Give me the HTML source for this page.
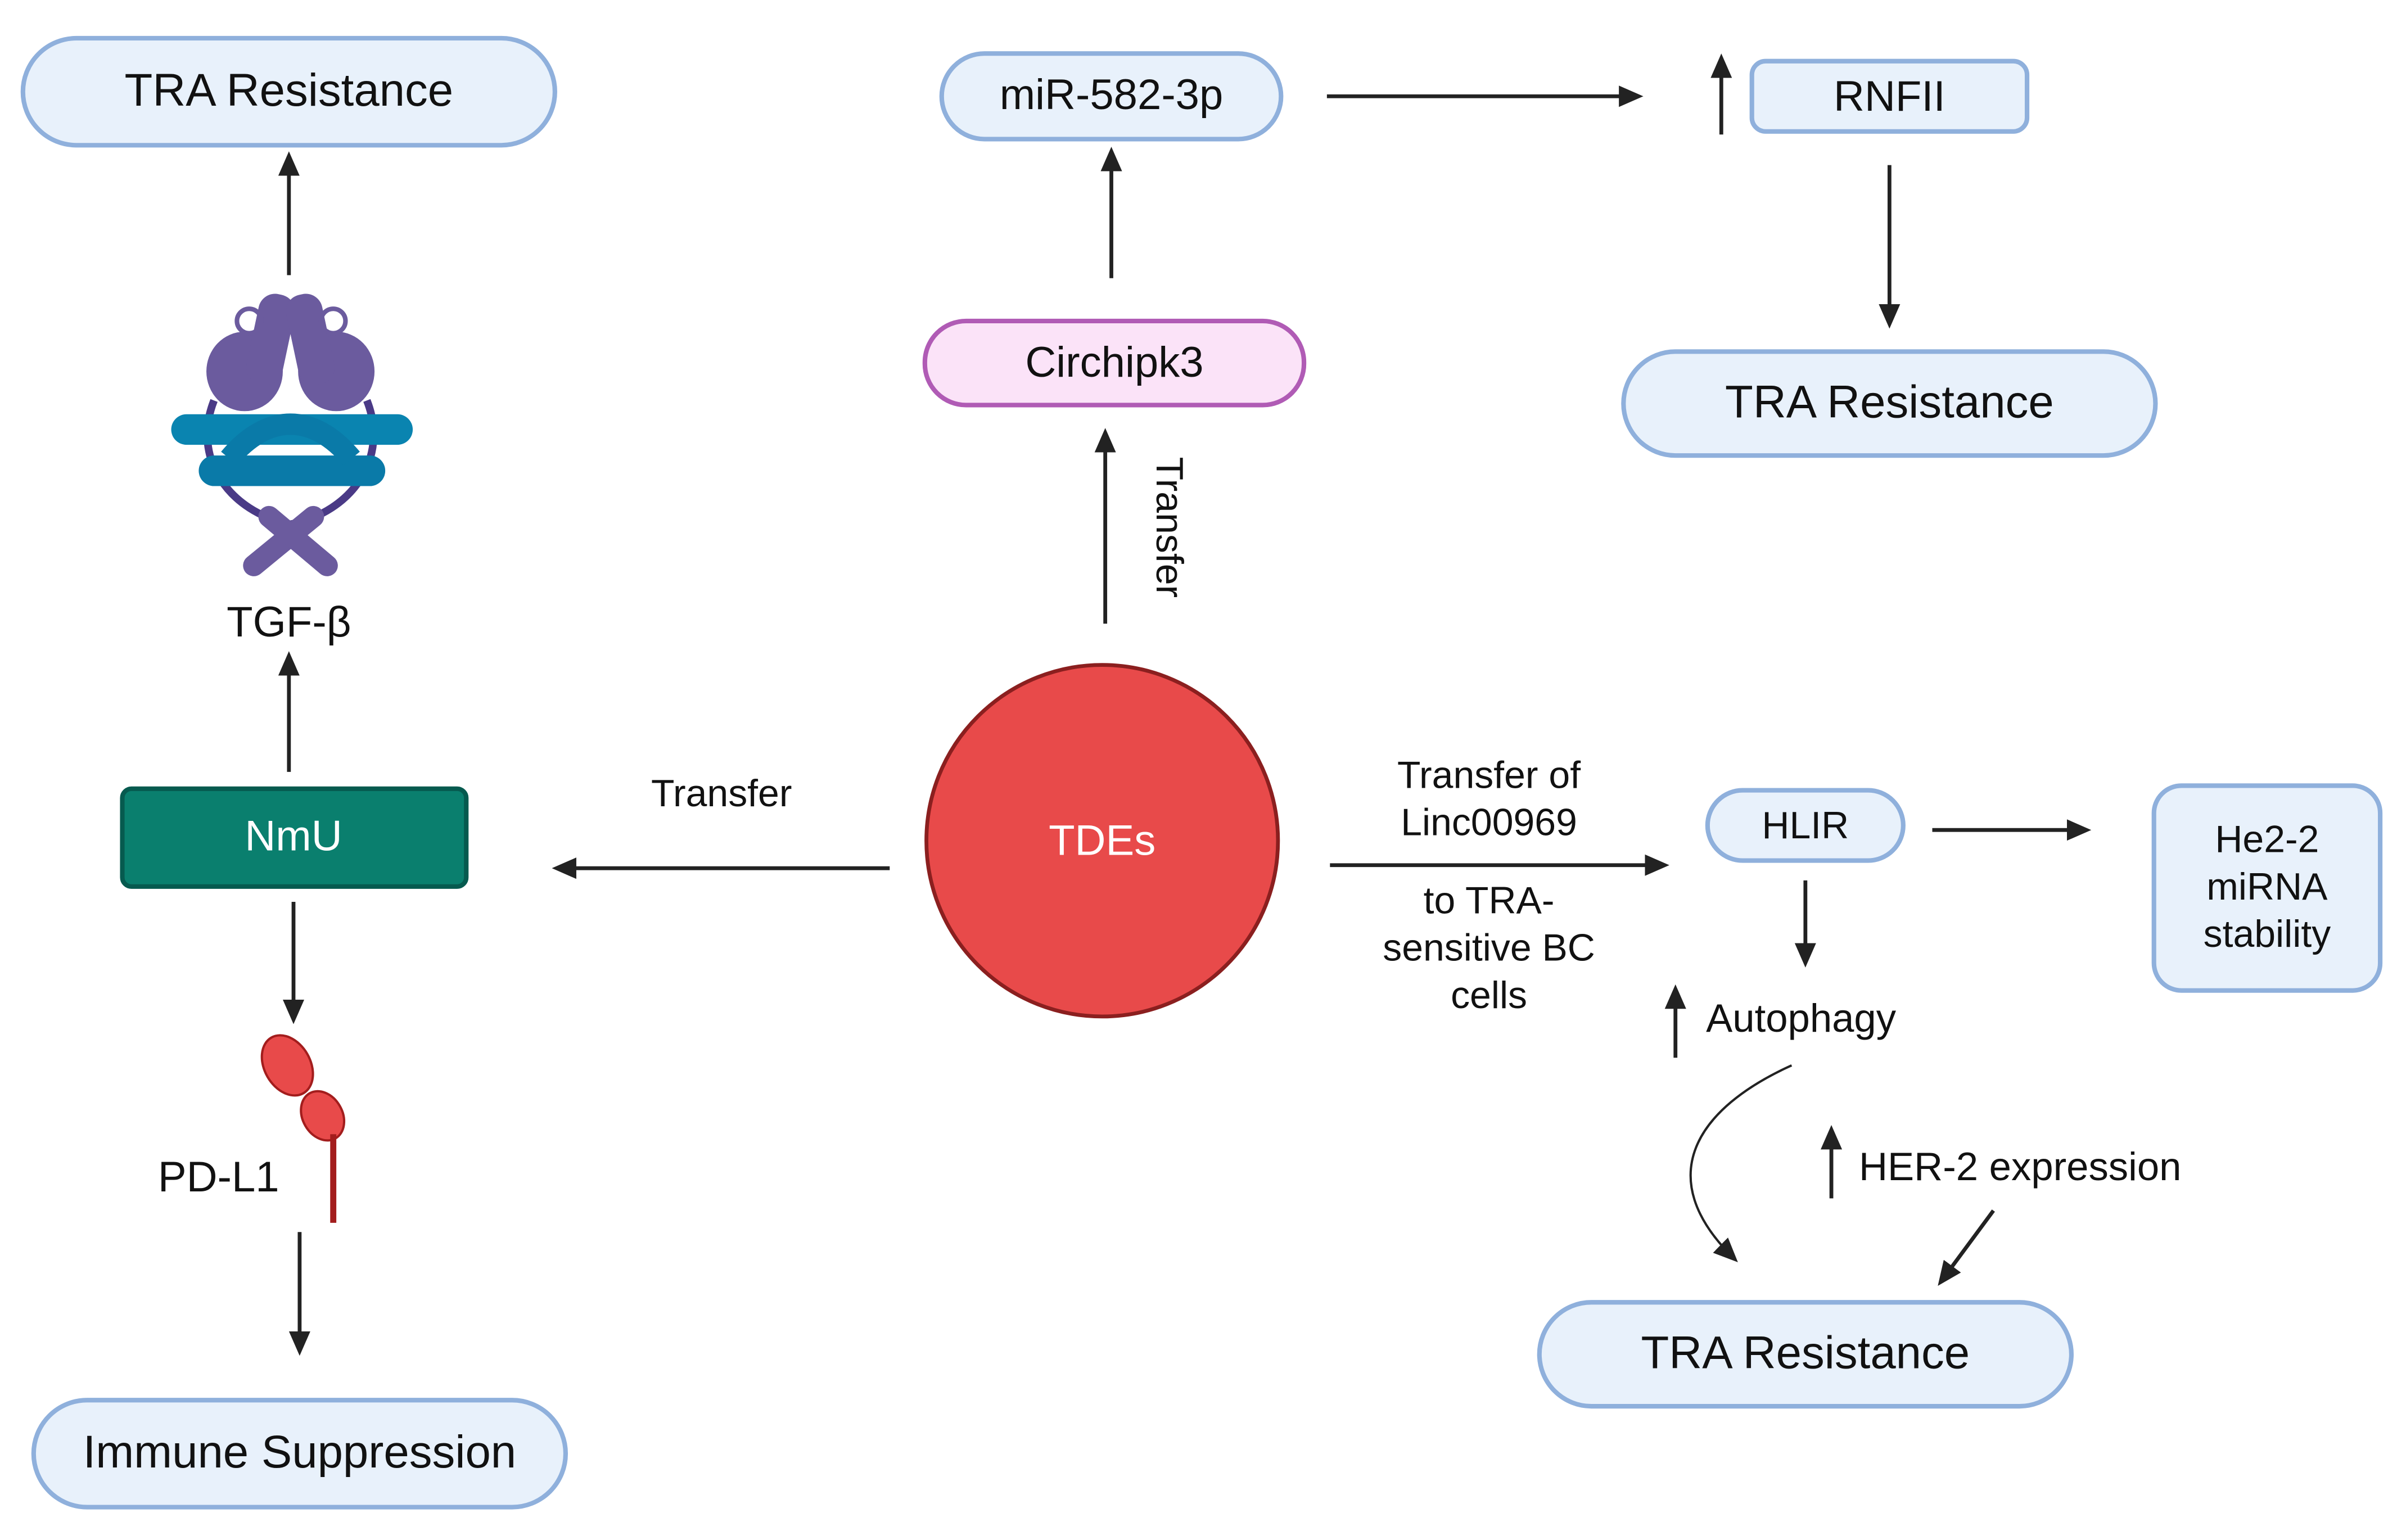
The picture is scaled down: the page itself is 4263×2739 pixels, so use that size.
<!DOCTYPE html>
<html><head><meta charset="utf-8"><style>
html,body{margin:0;padding:0;background:#fff;}
svg{display:block;}
text{font-family:"Liberation Sans",sans-serif;fill:#111;}
</style></head><body>
<svg width="4263" height="2739" viewBox="0 0 1568 1007.5" preserveAspectRatio="none" xmlns="http://www.w3.org/2000/svg">
<defs>
<marker id="a2" markerWidth="16" markerHeight="14" refX="12" refY="7" orient="auto" markerUnits="userSpaceOnUse">
<path d="M0,0 L16,7 L0,14 z" fill="#222"/>
</marker>
</defs>
<g fill="#e8f1fb" stroke="#8fb0dc" stroke-width="3">
<rect x="15" y="25" width="348" height="70" rx="35"/>
<rect x="22" y="916" width="348" height="70" rx="35"/>
<rect x="616" y="35" width="222" height="56" rx="28"/>
<rect x="1146" y="40" width="180" height="46" rx="9"/>
<rect x="1062" y="230" width="348" height="68" rx="34"/>
<rect x="1117" y="517" width="128" height="46" rx="23"/>
<rect x="1409" y="514" width="148" height="134" rx="18"/>
<rect x="1007" y="852" width="348" height="68" rx="34"/>
</g>
<rect x="605" y="210" width="248" height="55" rx="27" fill="#fbe3f8" stroke="#b05bb5" stroke-width="3"/>
<rect x="80" y="516" width="225" height="64" rx="6" fill="#0a7f6e" stroke="#065a4f" stroke-width="3"/>
<circle cx="721" cy="550" r="115" fill="#e84a4a" stroke="#8b1f1f" stroke-width="2.5"/>

<g stroke="#222" stroke-width="2.5" fill="none" marker-end="url(#a2)">
<line x1="189" y1="180" x2="189" y2="103"/>
<line x1="189" y1="505" x2="189" y2="430"/>
<line x1="192" y1="590" x2="192" y2="666"/>
<line x1="196" y1="806" x2="196" y2="883"/>
<line x1="582" y1="568" x2="365" y2="568"/>
<line x1="723" y1="408" x2="723" y2="284"/>
<line x1="727" y1="182" x2="727" y2="100"/>
<line x1="868" y1="63" x2="1071" y2="63"/>
<line x1="1126" y1="88" x2="1126" y2="39"/>
<line x1="1236" y1="108" x2="1236" y2="211"/>
<line x1="870" y1="566" x2="1088" y2="566"/>
<line x1="1264" y1="543" x2="1364" y2="543"/>
<line x1="1181" y1="576" x2="1181" y2="629"/>
<line x1="1096" y1="692" x2="1096" y2="648"/>
<line x1="1198" y1="784" x2="1198" y2="740"/>
<line x1="1304" y1="792" x2="1270" y2="838"/>
<path d="M1172,697 C1110,725 1080,770 1134,823" stroke-width="1.5"/>
</g>

<g>
<path d="M140,262 C125,300 150,335 190,343 C230,335 255,300 240,262" fill="none" stroke="#4a3a86" stroke-width="5"/>
<ellipse cx="160" cy="243" rx="25" ry="26" fill="#6b5b9e"/>
<ellipse cx="220" cy="243" rx="25" ry="26" fill="#6b5b9e"/>
<rect x="165" y="192" width="24" height="60" rx="11" fill="#6b5b9e" transform="rotate(12 177 222)"/>
<rect x="191" y="192" width="24" height="60" rx="11" fill="#6b5b9e" transform="rotate(-12 203 222)"/>
<circle cx="163" cy="210" r="8" fill="none" stroke="#6b5b9e" stroke-width="3"/>
<circle cx="218" cy="210" r="8" fill="none" stroke="#6b5b9e" stroke-width="3"/>
<rect x="112" y="271" width="158" height="20" rx="10" fill="#0a84b0"/>
<rect x="130" y="298" width="122" height="20" rx="10" fill="#0a7aa8"/>
<path d="M150,300 C175,270 205,270 230,300" fill="none" stroke="#0a7aa8" stroke-width="14"/>
<g stroke="#6b5b9e" stroke-width="14" stroke-linecap="round">
<line x1="166" y1="370" x2="205" y2="338"/>
<line x1="214" y1="370" x2="176" y2="338"/>
</g>
</g>

<ellipse cx="188" cy="697" rx="15" ry="21" fill="#e84a4a" stroke="#a31d1d" stroke-width="1.5" transform="rotate(-30 188 697)"/>
<ellipse cx="211" cy="730" rx="13" ry="17" fill="#e84a4a" stroke="#a31d1d" stroke-width="1.5" transform="rotate(-30 211 730)"/>
<line x1="218" y1="742" x2="218" y2="800" stroke="#a31d1d" stroke-width="4"/>

<g font-size="30" text-anchor="middle" dominant-baseline="central">
<text x="189" y="59">TRA Resistance</text>
<text x="196" y="950">Immune Suppression</text>
<text x="1236" y="263">TRA Resistance</text>
<text x="1181" y="885">TRA Resistance</text>
</g>
<g font-size="28" text-anchor="middle" dominant-baseline="central">
<text x="727" y="62">miR-582-3p</text>
<text x="1236" y="63">RNFII</text>
<text x="729" y="237">Circhipk3</text>
<text x="192" y="547" style="fill:#fff">NmU</text>
<text x="721" y="550" style="fill:#fff">TDEs</text>
<text x="189" y="407">TGF-β</text>
</g>
<g font-size="25" text-anchor="middle" dominant-baseline="central">
<text x="143" y="770" font-size="28">PD-L1</text>
<text x="472" y="519">Transfer</text>
<text x="974" y="507">Transfer of</text>
<text x="974" y="538">Linc00969</text>
<text x="974" y="589">to TRA-</text>
<text x="974" y="620">sensitive BC</text>
<text x="974" y="651">cells</text>
<text x="1181" y="540">HLIR</text>
<text x="1483" y="549">He2-2</text>
<text x="1483" y="580">miRNA</text>
<text x="1483" y="611">stability</text>
<text x="765" y="345" transform="rotate(90 765 345)">Transfer</text>
</g>
<g font-size="26" dominant-baseline="central">
<text x="1116" y="666">Autophagy</text>
<text x="1216" y="763">HER-2 expression</text>
</g>
</svg>
</body></html>
